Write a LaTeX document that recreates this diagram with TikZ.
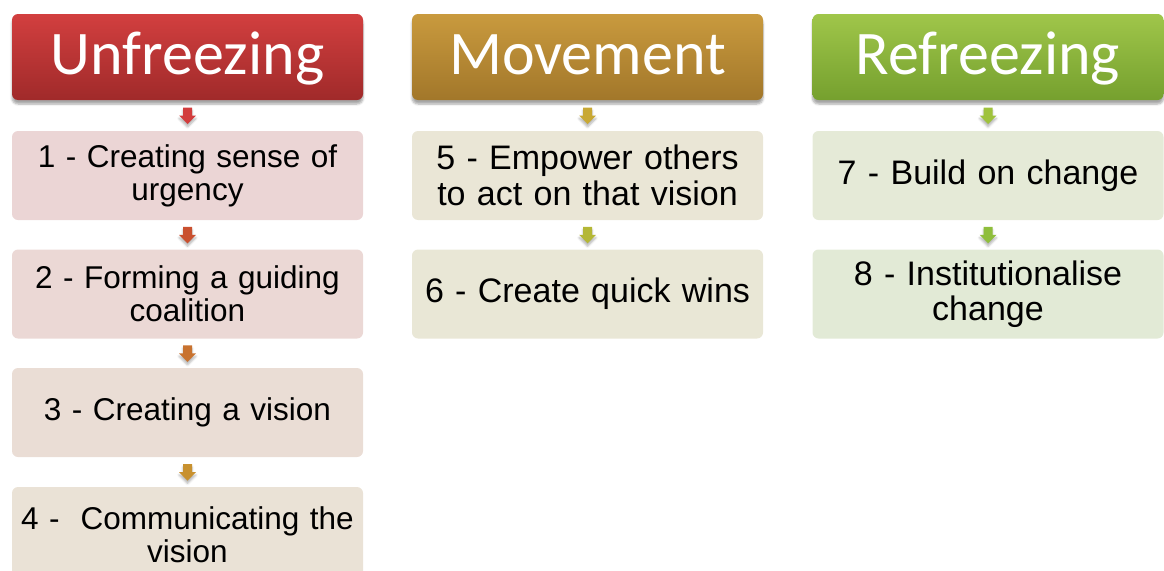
\documentclass[tikz,border=0pt]{standalone}
\usepackage{fontspec}
\setmainfont{Liberation Sans}
\newfontfamily\hdfont{Carlito}
\usetikzlibrary{shadows.blur}
\definecolor{uA}{HTML}{D23F3F}\definecolor{uB}{HTML}{A02A2A}
\definecolor{mA}{HTML}{C99A3E}\definecolor{mB}{HTML}{A2772A}
\definecolor{rA}{HTML}{A0C64A}\definecolor{rB}{HTML}{75A02E}
\definecolor{f1}{HTML}{EBD5D5}\definecolor{f2}{HTML}{EBD8D5}
\definecolor{f3}{HTML}{EADDD5}\definecolor{f4}{HTML}{EAE2D6}
\definecolor{f5}{HTML}{EAE6D6}\definecolor{f6}{HTML}{E9E7D6}
\definecolor{f7}{HTML}{E5EAD7}\definecolor{f8}{HTML}{E2EAD6}
\definecolor{a1}{HTML}{D23C3C}\definecolor{a2}{HTML}{C9502F}
\definecolor{a3}{HTML}{C8722F}\definecolor{a4}{HTML}{C8912F}
\definecolor{a5}{HTML}{C8A834}\definecolor{a6}{HTML}{B4B736}
\definecolor{a7}{HTML}{9FC23C}\definecolor{a8}{HTML}{8FBE3C}
\newcommand\hdtext[1]{\raisebox{-17.5pt}[0pt][0pt]{#1}}
\tikzset{
  header/.style={rounded corners=6pt, minimum width=351pt, minimum height=86pt,
    inner sep=0pt, text=white, font=\hdfont\fontsize{62}{70}\selectfont,
    blur shadow={shadow xshift=0pt, shadow yshift=-4pt, shadow blur steps=6, shadow opacity=35}},
  stepbox/.style={rounded corners=6pt, minimum width=351pt, minimum height=89pt,
    inner sep=0pt, text width=349pt, align=center, text=black,
    font=\fontsize{31.5}{33}\selectfont},
  bigtext/.style={font=\fontsize{34}{35.5}\selectfont},
  dnarrow/.style={fill=#1, draw=none,
    blur shadow={shadow xshift=0pt, shadow yshift=-3pt, shadow blur steps=4, shadow opacity=30}}
}
\newcommand\myarrow[3]{%
  \path (#1.south) -- (#2.north) coordinate[pos=0.5] (tmpm);
  \fill[dnarrow=#3] ([shift={(-4.5pt,8pt)}]tmpm) -- ([shift={(4.5pt,8pt)}]tmpm)
    -- ([shift={(4.5pt,0pt)}]tmpm) -- ([shift={(8.5pt,0pt)}]tmpm)
    -- ([shift={(0pt,-8.5pt)}]tmpm) -- ([shift={(-8.5pt,0pt)}]tmpm)
    -- ([shift={(-4.5pt,0pt)}]tmpm) -- cycle;}
\begin{document}
\begin{tikzpicture}[x=1pt,y=-1pt]
\useasboundingbox (0,0) rectangle (1164,570);
\clip (0,0) rectangle (1164,570);
\node[header, top color=uA, bottom color=uB] (h1) at (187.5,57) {\hdtext{Unfreezing}};
\node[header, top color=mA, bottom color=mB] (h2) at (587.5,57) {\hdtext{Movement}};
\node[header, top color=rA, bottom color=rB] (h3) at (988,57) {\hdtext{Refreezing}};
\node[stepbox, fill=f1] (b1) at (187.5,175.5) {1 - Creating sense of\\urgency};
\node[stepbox, fill=f2] (b2) at (187.5,294) {2 - Forming a guiding\\coalition};
\node[stepbox, fill=f3] (b3) at (187.5,412.5) {3 - Creating a vision};
\node[stepbox, fill=f4, minimum height=96pt] (b4) at (187.5,535) {4 -\ \ Communicating the\\vision};
\node[stepbox, bigtext, fill=f5] (b5) at (587.5,175.5) {5 - Empower others\\to act on that vision};
\node[stepbox, bigtext, fill=f6] (b6) at (587.5,294) {6 - Create quick wins};
\node[stepbox, bigtext, fill=f7] (b7) at (988,175.5) {7 - Build on change};
\node[stepbox, bigtext, fill=f8] (b8) at (988,294) {8 - Institutionalise\\change};
\myarrow{h1}{b1}{a1}
\myarrow{b1}{b2}{a2}
\myarrow{b2}{b3}{a3}
\myarrow{b3}{b4}{a4}
\myarrow{h2}{b5}{a5}
\myarrow{b5}{b6}{a6}
\myarrow{h3}{b7}{a7}
\myarrow{b7}{b8}{a8}
\end{tikzpicture}
\end{document}
